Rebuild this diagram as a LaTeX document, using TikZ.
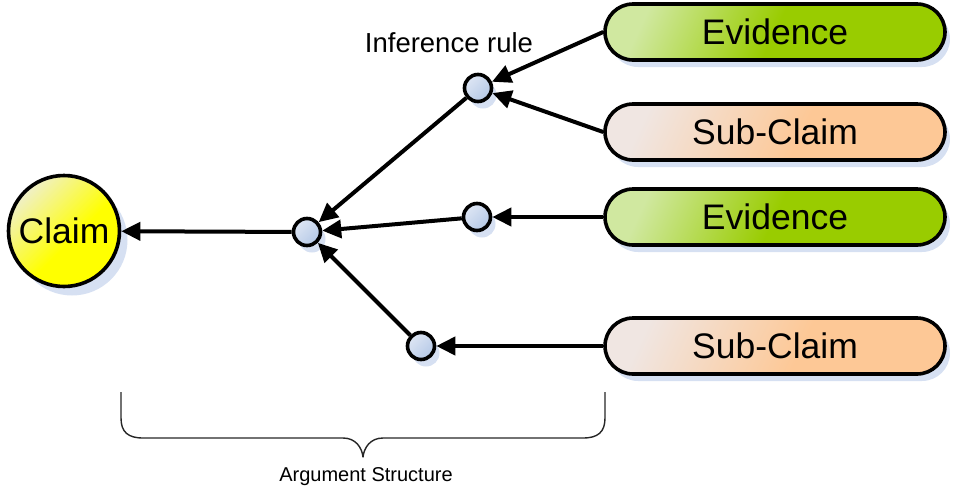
\documentclass[tikz,border=0pt]{standalone}
\usepackage{fontspec}
\setmainfont{Liberation Sans}
\usetikzlibrary{arrows.meta,shadows}

\definecolor{shadowblue}{RGB}{214,224,242}
\definecolor{claimlight}{RGB}{240,240,200}
\definecolor{claimdark}{RGB}{255,255,0}
\definecolor{evlight}{RGB}{208,232,160}
\definecolor{evdark}{RGB}{153,204,0}
\definecolor{sclight}{RGB}{240,230,226}
\definecolor{scdark}{RGB}{253,200,150}
\definecolor{rulelight}{RGB}{222,230,244}
\definecolor{ruledark}{RGB}{180,200,230}

% light corner fading quickly into the main colour
\pgfdeclarehorizontalshading{evshade}{100bp}{color(0bp)=(evlight); color(25bp)=(evlight); color(50bp)=(evdark); color(100bp)=(evdark)}
\pgfdeclarehorizontalshading{scshade}{100bp}{color(0bp)=(sclight); color(25bp)=(sclight); color(55bp)=(scdark); color(100bp)=(scdark)}
\pgfdeclarehorizontalshading{claimshade}{100bp}{color(0bp)=(claimlight); color(25bp)=(claimlight); color(55bp)=(claimdark); color(100bp)=(claimdark)}
\pgfdeclarehorizontalshading{ruleshade}{100bp}{color(0bp)=(rulelight); color(25bp)=(rulelight); color(75bp)=(ruledark); color(100bp)=(ruledark)}

\begin{document}
\begin{tikzpicture}[x=1pt,y=-1pt,
  bigtext/.style={font=\fontsize{35.5}{40}\selectfont},
  pill/.style={draw=black, line width=3.6pt, rounded corners=28pt,
    minimum width=340pt, minimum height=56pt, inner sep=0pt, bigtext,
    general shadow={fill=shadowblue, shadow xshift=5pt, shadow yshift=-7pt}},
  evbox/.style={pill, shading=evshade, shading angle=-25},
  scbox/.style={pill, shading=scshade, shading angle=-25},
  claimnode/.style={circle, draw=black, line width=3.6pt, minimum size=111pt,
    inner sep=0pt, bigtext, shading=claimshade, shading angle=-45,
    general shadow={fill=shadowblue, shadow xshift=8pt, shadow yshift=-9pt}},
  rulenode/.style={circle, draw=black, line width=3.6pt, minimum size=27pt,
    inner sep=0pt, shading=ruleshade, shading angle=-45,
    general shadow={fill=shadowblue, shadow xshift=5pt, shadow yshift=-7pt}},
  link/.style={line width=4pt, -{Triangle[length=19pt,width=18pt]}},
  bracket/.style={line width=1.4pt, draw=black!85, line join=round},
]
\useasboundingbox (0,0) rectangle (954,488);

% claim, hub and inference rules
\node[claimnode] (claim) at (64,231) {Claim};
\node[rulenode] (hub) at (307,232) {};
\node[rulenode] (r1) at (478,88) {};
\node[rulenode] (r2) at (477,217) {};
\node[rulenode] (r3) at (421,346) {};

% supporting items
\node[evbox] (ev1) at (775,32) {Evidence};
\node[scbox] (sc1) at (775,132) {Sub-Claim};
\node[evbox] (ev2) at (775,217) {Evidence};
\node[scbox] (sc2) at (775,346) {Sub-Claim};

% support links
\draw[link] (ev1.west) -- (r1);
\draw[link] (sc1.west) -- (r1);
\draw[link] (ev2) -- (r2);
\draw[link] (sc2) -- (r3);
\draw[link] (r1) -- (hub);
\draw[link] (r2) -- (hub);
\draw[link] (r3) -- (hub);
\draw[link] (hub) -- (claim);

% labels
\node[font=\fontsize{27.5}{32}\selectfont] (ruleLabel) at (449,43) {Inference rule};
\node[font=\fontsize{20}{24}\selectfont] (structLabel) at (366,477) {Argument Structure};

% brace under the argument structure
\coordinate (bl) at (121,392);
\coordinate (br) at (605,392);
\coordinate (tip) at (363,457);
\draw[bracket] (bl) -- (121,418) .. controls (121,432) and (128,438) .. (143,438)
  -- (343,438) .. controls (356,438) and (362,448) .. (tip)
  .. controls (364,448) and (370,438) .. (383,438)
  -- (583,438) .. controls (598,438) and (605,432) .. (605,418) -- (br);
\end{tikzpicture}
\end{document}
